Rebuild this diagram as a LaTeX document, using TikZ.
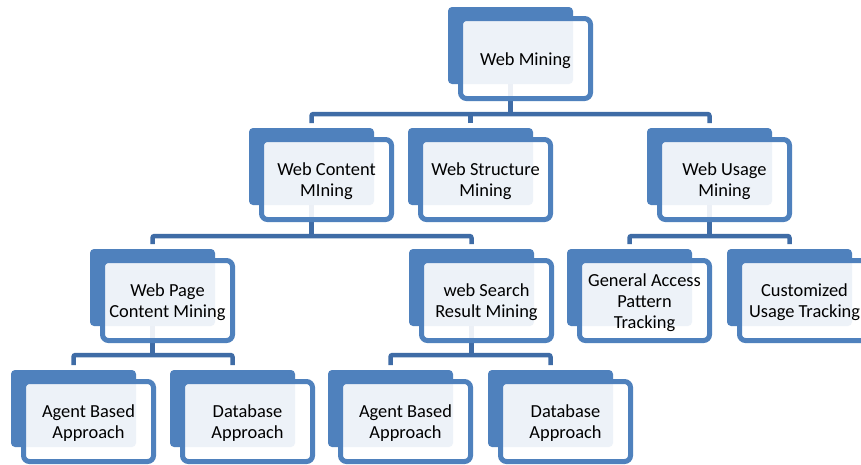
\documentclass[tikz,border=0pt]{standalone}
\usepackage{fontspec}
\setmainfont{Carlito}
\usetikzlibrary{calc}
\definecolor{accent}{HTML}{4F81BD}
\definecolor{conncol}{HTML}{3F6CA6}
\pgfdeclarelayer{paper}
\pgfdeclarelayer{bg}
\pgfsetlayers{paper,bg,main}
\tikzset{
  back/.style={fill=accent, rounded corners=4pt, minimum width=125pt, minimum height=77pt,
    inner sep=0pt, outer sep=0pt, anchor=north west},
  frame/.style={draw=accent, line width=5pt, fill=white, fill opacity=0.9,
    rounded corners=6pt, minimum width=130pt, minimum height=80pt, inner sep=0pt, outer sep=0pt,
    anchor=north west},
  lbl/.style={align=center, inner sep=0pt, font=\fontsize{18.4}{21}\selectfont, text=black},
  conn/.style={draw=conncol, line width=4.5pt, rounded corners=2pt},
}
\newcommand{\mkbox}[4]{%
  \node[back] (#1) at (#2,#3) {};
  \node[frame] (#1f) at ([xshift=12.5pt,yshift=-11.5pt]#1.north west) {};
  \node[lbl] (#1t) at ([yshift=-2pt]#1f.center) {#4};
}
\begin{document}
\begin{tikzpicture}[x=1pt,y=-1pt]
\useasboundingbox (0,0) rectangle (861,464);
\begin{pgfonlayer}{paper}
\fill[white] (0,0) rectangle (861,464);
\end{pgfonlayer}
\coordinate (y1) at (0,114);
\coordinate (y2) at (0,236);
\coordinate (y3) at (0,355);

\mkbox{wm}{448}{7}{Web Mining}
\mkbox{wc}{249}{128}{Web Content\\MIning}
\mkbox{ws}{408}{128}{Web Structure\\Mining}
\mkbox{wu}{647}{128}{Web Usage\\Mining}
\mkbox{wp}{90}{249}{Web Page\\Content Mining}
\mkbox{wr}{409}{249}{web Search\\Result Mining}
\mkbox{ga}{567}{249}{General Access\\Pattern\\Tracking}
\mkbox{cu}{727}{249}{Customized\\Usage Tracking}
\mkbox{al}{11}{370}{Agent Based\\Approach}
\mkbox{dl}{170}{370}{Database\\Approach}
\mkbox{ar}{328}{370}{Agent Based\\Approach}
\mkbox{dr}{488}{370}{Database\\Approach}

\begin{pgfonlayer}{bg}
\draw[conn] (wm.south) -- (wm.south |- y1);
\draw[conn] ([yshift=5pt]wc.north) |- (wm.south |- y1) -| ([yshift=5pt]wu.north);
\draw[conn] ([yshift=5pt]ws.north) -- (ws.north |- y1);

\draw[conn] (wc.south) -- (wc.south |- y2);
\draw[conn] ([yshift=5pt]wp.north) |- (wc.south |- y2) -| ([yshift=5pt]wr.north);

\draw[conn] (wu.south) -- (wu.south |- y2);
\draw[conn] ([yshift=5pt]ga.north) |- (wu.south |- y2) -| ([yshift=5pt]cu.north);

\draw[conn] (wp.south) -- (wp.south |- y3);
\draw[conn] ([yshift=5pt]al.north) |- (wp.south |- y3) -| ([yshift=5pt]dl.north);

\draw[conn] (wr.south) -- (wr.south |- y3);
\draw[conn] ([yshift=5pt]ar.north) |- (wr.south |- y3) -| ([yshift=5pt]dr.north);
\end{pgfonlayer}
\end{tikzpicture}
\end{document}
